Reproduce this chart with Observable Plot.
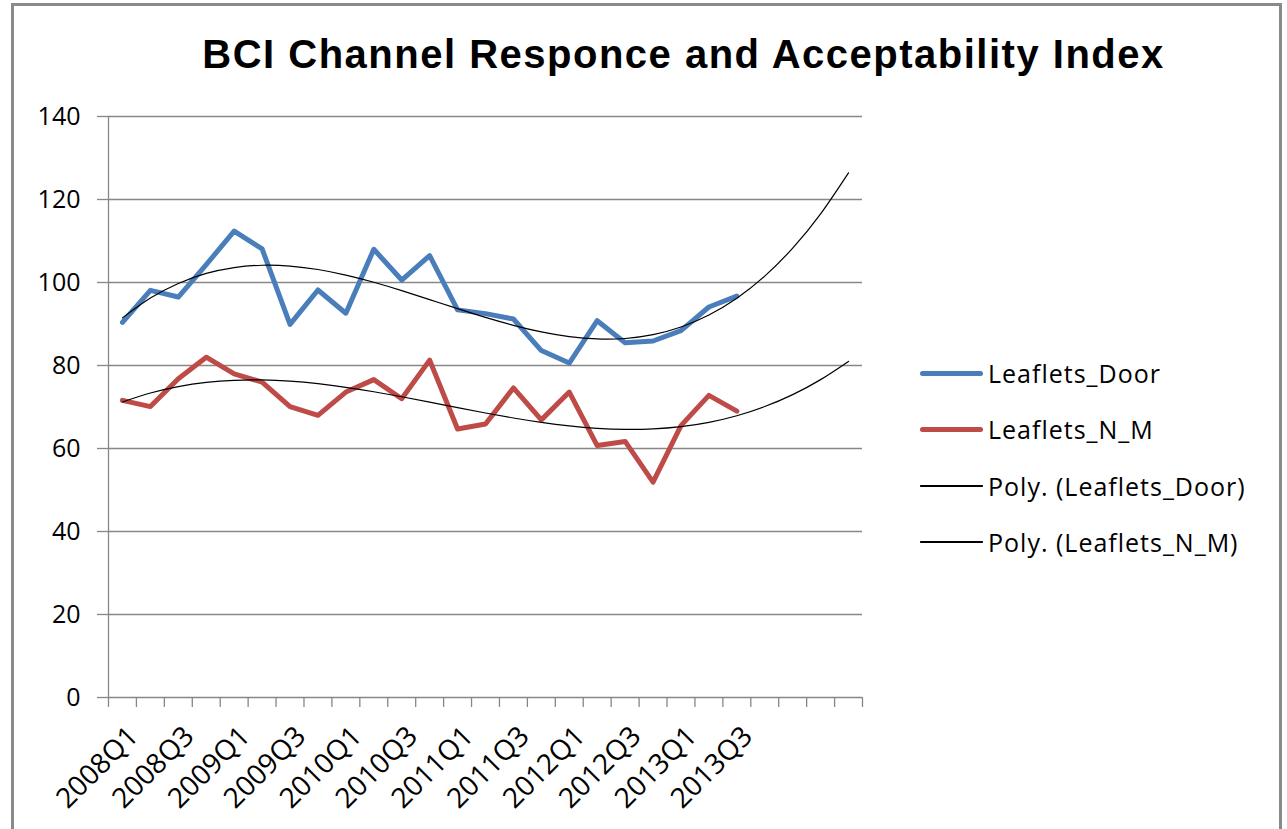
<!DOCTYPE html>
<html>
<head>
<meta charset="utf-8">
<script src="https://cdn.jsdelivr.net/npm/d3@7"></script>
<script src="https://cdn.jsdelivr.net/npm/@observablehq/plot@0.6"></script>
<style>
  html, body { margin: 0; padding: 0; background: #fff; }
  #wrap { position: relative; width: 1287px; height: 829px; overflow: hidden; background: #fff; }
  #frame { position: absolute; left: 11px; top: 3px; width: 1271px; height: 860px; border: 3px solid #8a8a8a; box-sizing: border-box; }
  #title { position: absolute; left: 40px; top: 34px; width: 1287px; text-align: center;
           font-family: "Liberation Sans", Arial, sans-serif; font-weight: bold; font-size: 40px; line-height: 40px;
           letter-spacing: 1.5px; color: #000; }
  #chart { position: absolute; left: 0; top: 100px; }
  .leg { position: absolute; left: 920px; font-family: "Open Sans", sans-serif; font-size: 25px; letter-spacing: 1px; color: #000; white-space: nowrap; }
  .leg .sw { position: absolute; left: 0; width: 63px; }
  .leg .lab { position: absolute; left: 68px; top: -18px; line-height: 36px; }
</style>
</head>
<body>
<div id="wrap">
  <div id="frame"></div>
  <div id="title">BCI Channel Responce and Acceptability Index</div>
  <div id="chart"></div>
  <div id="legend"></div>
</div>
<script>
// ---- data ----
const quarters = ["2008Q1","2008Q2","2008Q3","2008Q4","2009Q1","2009Q2","2009Q3","2009Q4",
  "2010Q1","2010Q2","2010Q3","2010Q4","2011Q1","2011Q2","2011Q3","2011Q4",
  "2012Q1","2012Q2","2012Q3","2012Q4","2013Q1","2013Q2","2013Q3"];
const leafletsDoor = [90.4, 98.1, 96.5, 104.3, 112.4, 108.1, 89.9, 98.2, 92.6, 108.0, 100.6, 106.5,
  93.4, 92.5, 91.2, 83.6, 80.6, 90.8, 85.5, 85.9, 88.4, 94.1, 96.7];
const leafletsNM = [71.6, 70.1, 76.8, 82.0, 78.0, 76.0, 70.1, 68.0, 73.6, 76.6, 72.0, 81.3,
  64.7, 65.9, 74.6, 66.9, 73.6, 60.7, 61.7, 51.9, 65.5, 72.8, 69.0];
const forecastPeriods = 4;               // Excel trendline "forward" periods
const polyOrder = 3;                      // Poly. trendline order
const yTicks = [0, 20, 40, 60, 80, 100, 120, 140];
const labelEvery = 2;

const series = [
  {name: "Leaflets_Door", color: "#4a7ebb", values: leafletsDoor},
  {name: "Leaflets_N_M", color: "#be4b48", values: leafletsNM}
];

// ---- polynomial least-squares trendline (as Excel computes it) ----
function polyFit(ys, order) {
  const n = order + 1;
  const A = Array.from({length: n}, () => new Array(n + 1).fill(0));
  ys.forEach((y, k) => {
    const x = k + 1;
    for (let r = 0; r < n; r++) {
      for (let c = 0; c < n; c++) A[r][c] += Math.pow(x, r + c);
      A[r][n] += y * Math.pow(x, r);
    }
  });
  for (let p = 0; p < n; p++) {
    let m = p;
    for (let r = p + 1; r < n; r++) if (Math.abs(A[r][p]) > Math.abs(A[m][p])) m = r;
    [A[p], A[m]] = [A[m], A[p]];
    for (let r = 0; r < n; r++) {
      if (r === p) continue;
      const f = A[r][p] / A[p][p];
      for (let c = p; c <= n; c++) A[r][c] -= f * A[p][c];
    }
  }
  const coef = A.map((row, i) => row[n] / row[i]);
  return x => coef.reduce((s, c, i) => s + c * Math.pow(x, i), 0);
}

const nSlots = quarters.length + forecastPeriods;
const slotIdx = d3.range(1, nSlots + 1);
const bounds = d3.range(0.5, nSlots + 1, 1);
const labelIdx = d3.range(1, quarters.length + 1, labelEvery);

const lineData = series.flatMap(s => s.values.map((v, k) => ({name: s.name, i: k + 1, v})));
const trendData = series.flatMap(s => {
  const f = polyFit(s.values, polyOrder);
  return slotIdx.map(i => ({name: s.name, i, v: f(i)}));
});

const gridColor = "#878787";
const font = "'Open Sans', sans-serif";

const chart = Plot.plot({
  width: 1287,
  height: 729,
  marginTop: 16,
  marginBottom: 132,
  marginLeft: 108,
  marginRight: 425,
  style: {fontFamily: font, fontSize: "25px", color: "#000", background: "transparent", overflow: "visible"},
  x: {type: "linear", domain: [0.5, nSlots + 0.5], axis: null, label: null},
  y: {domain: [0, 140], axis: null, label: null},
  marks: [
    Plot.ruleY(yTicks, {stroke: gridColor, strokeWidth: 1.3}),
    Plot.ruleX([0.5], {stroke: gridColor, strokeWidth: 1.3}),
    Plot.axisY({ticks: yTicks, label: null, tickSize: 11, tickPadding: 17, stroke: gridColor, strokeWidth: 1.3, fontSize: 25, fill: "#000"}),
    Plot.axisX({ticks: bounds, label: null, tickSize: 10, tickFormat: () => "", stroke: gridColor, strokeWidth: 1.3}),
    Plot.text(labelIdx, {x: d => d, frameAnchor: "bottom", text: d => quarters[d - 1], rotate: -45,
      textAnchor: "end", lineAnchor: "middle", dx: 11, dy: 34, fontSize: 28, fill: "#000"}),
    Plot.line(lineData, {x: "i", y: "v", z: "name", stroke: d => series.find(s => s.name === d.name).color,
      strokeWidth: 5, strokeLinejoin: "round", strokeLinecap: "round"}),
    Plot.line(trendData, {x: "i", y: "v", z: "name", stroke: "#000", strokeWidth: 1.2, curve: "natural"})
  ]
});
document.getElementById("chart").appendChild(chart);

// ---- legend ----
const legendItems = [
  {label: "Leaflets_Door", color: "#4a7ebb", w: 5},
  {label: "Leaflets_N_M", color: "#be4b48", w: 5},
  {label: "Poly. (Leaflets_Door)", color: "#000", w: 1.3},
  {label: "Poly. (Leaflets_N_M)", color: "#000", w: 1.3}
];
const legRows = [373, 429, 486, 542];
const leg = document.getElementById("legend");
legendItems.forEach((it, k) => {
  const d = document.createElement("div");
  d.className = "leg";
  d.style.top = legRows[k] + "px";
  d.innerHTML = `<div class="sw" style="top:${-it.w / 2}px;height:${it.w}px;background:${it.color};border-radius:${it.w / 2}px"></div><div class="lab">${it.label}</div>`;
  leg.appendChild(d);
});
</script>
</body>
</html>
